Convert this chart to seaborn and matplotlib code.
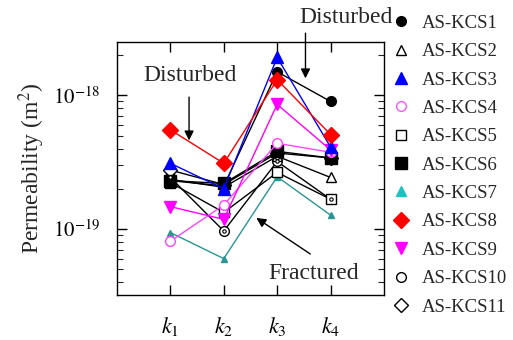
import matplotlib
matplotlib.use("Agg")
import matplotlib.pyplot as plt
import seaborn as sns
import pandas as pd
from matplotlib.lines import Line2D

sns.set_theme(style="ticks")
plt.rcParams['font.family'] = ['Liberation Serif', 'DejaVu Serif']
plt.rcParams['mathtext.fontset'] = 'stix'

stages = [1, 2, 3, 4]
stage_labels = ['$k_1$', '$k_2$', '$k_3$', '$k_4$']
samples = ['AS-KCS1', 'AS-KCS2', 'AS-KCS3', 'AS-KCS4', 'AS-KCS5', 'AS-KCS6',
           'AS-KCS7', 'AS-KCS8', 'AS-KCS9', 'AS-KCS10', 'AS-KCS11']

kcs1 = [2.3e-19, 2.1e-19, 1.50e-18, 9.0e-19]
kcs2 = [2.35e-19, 2.05e-19, 3.5e-19, 2.43e-19]
kcs3 = [3.1e-19, 2.0e-19, 1.92e-18, 4.1e-19]
kcs4 = [8.1e-20, 1.51e-19, 4.38e-19, 3.75e-19]
kcs5 = [2.22e-19, 1.33e-19, 2.65e-19, 1.67e-19]
kcs6 = [2.3e-19, 2.19e-19, 3.81e-19, 3.4e-19]
kcs7 = [9.4e-20, 6.0e-20, 2.46e-19, 1.27e-19]
kcs8 = [5.52e-19, 3.1e-19, 1.31e-18, 5.09e-19]
kcs9 = [1.47e-19, 1.18e-19, 8.56e-19, 3.9e-19]
kcs10 = [2.43e-19, 9.66e-20, 3.2e-19, 1.67e-19]
kcs11 = [2.76e-19, 2.15e-19, 3.7e-19, 3.4e-19]
values = [kcs1, kcs2, kcs3, kcs4, kcs5, kcs6, kcs7, kcs8, kcs9, kcs10, kcs11]

line_colors = ['black', 'black', '#0000ff', '#ff44ff', 'black', 'black',
               '#2a9595', '#ff0000', '#ff00ff', 'black', 'black']
legend_colors = ['black', 'black', '#0000ff', '#ff55ff', 'black', 'black',
                 '#20c0c0', '#ff0000', '#ff00ff', 'black', 'black']
markers = ['o', '^', '^', 'o', 's', 's', '^', 'D', 'v', 'o', 'D']
filled = [True, False, True, False, False, True, True, True, True, False, False]
msizes = [7, 7, 8, 7, 7, 8, 5, 8, 8, 7, 7]

fig = plt.figure(figsize=(5.13, 3.40), dpi=100)
ax = fig.add_axes([0.228, 0.132, 0.5205, 0.744])

order = [6, 9, 4, 1, 10, 5, 0, 3, 8, 2, 7]
for i in order:
    df = pd.DataFrame({'stage': stages, 'k': values[i]})
    c = line_colors[i]
    mfc = c if filled[i] else 'white'
    sns.lineplot(data=df, x='stage', y='k', ax=ax, color=c, lw=1.0,
                 marker=markers[i], markersize=msizes[i],
                 markerfacecolor=mfc, markeredgecolor=c, markeredgewidth=1.0,
                 legend=False)
    if i == 9:
        sns.scatterplot(data=df, x='stage', y='k', ax=ax, marker='o', s=6,
                        facecolor='white', edgecolor='black', linewidth=0.8,
                        legend=False, zorder=5)

ax.set_yscale('log')
ax.set_xlim(0, 5)
ax.set_ylim(3.2e-20, 2.5e-18)
ax.set_xticks(stages)
ax.set_xticklabels(stage_labels, fontsize=16)
ax.set_yticks([1e-19, 1e-18])
ax.set_yticklabels(['$10^{-19}$', '$10^{-18}$'], fontsize=15)
ax.set_xlabel('')
ax.set_ylabel('Permeability (m$^2$)', fontsize=17, labelpad=4)
ax.tick_params(axis='both', which='major', direction='in', length=7, width=1,
               top=True, right=True, colors='black')
ax.tick_params(axis='x', pad=14)
ax.tick_params(axis='y', which='major', pad=12)
ax.tick_params(axis='y', which='minor', direction='in', length=4, width=0.8,
               right=True, left=True)
ax.tick_params(axis='x', which='minor', bottom=False, top=False)
for sp in ax.spines.values():
    sp.set_color('black')
    sp.set_linewidth(1.0)

arrow = dict(arrowstyle='-|>', color='black', lw=1.0, mutation_scale=14,
             shrinkA=0, shrinkB=0)
ax.text(1.37, 1.41e-18, 'Disturbed', fontsize=17, ha='center', va='center')
ax.annotate('', xy=(1.35, 4.6e-19), xytext=(1.35, 9.7e-19), arrowprops=arrow)
ax.text(4.29, 3.8e-18, 'Disturbed', fontsize=17, ha='center', va='center',
        clip_on=False)
ax.annotate('', xy=(3.53, 1.34e-18), xytext=(3.53, 2.92e-18), arrowprops=arrow,
            annotation_clip=False)
ax.text(3.68, 4.68e-20, 'Fractured', fontsize=17, ha='center', va='center')
ax.annotate('', xy=(2.61, 1.21e-19), xytext=(3.62, 6.5e-20), arrowprops=arrow)

handles = []
for i in range(len(samples)):
    c = legend_colors[i]
    mfc = c if filled[i] else 'white'
    handles.append(Line2D([], [], ls='none', marker=markers[i],
                          markersize=msizes[i] if i != 6 else 7,
                          markerfacecolor=mfc, markeredgecolor=c,
                          markeredgewidth=1.0))
leg = fig.legend(handles, samples, loc='upper left',
                 bbox_to_anchor=(0.738, 0.99), frameon=False, fontsize=13.5,
                 labelspacing=0.6, handletextpad=0.5, handlelength=1.2,
                 borderaxespad=0.2)

fig.savefig('out.png', dpi=100)
